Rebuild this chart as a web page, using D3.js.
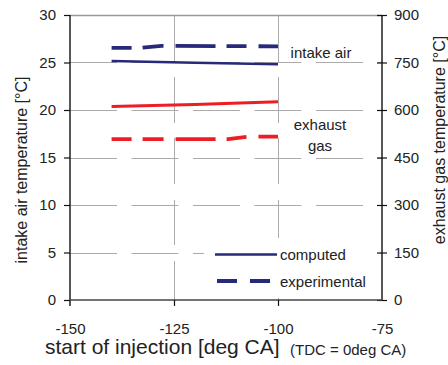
<!DOCTYPE html>
<html>
<head>
<meta charset="utf-8">
<script src="https://cdn.jsdelivr.net/npm/d3@7"></script>
<style>
  html, body { margin: 0; padding: 0; background: #fff; }
  svg { display: block; font-family: "Liberation Sans", Arial, sans-serif; }
</style>
</head>
<body>
<svg id="chart" width="448" height="365"></svg>
<script>
// Start of injection [deg CA] for each series
const xComputed = [-140, -120, -100];
const xIntakeExp = [-140, -133, -128, -100];
const xExhaustExp = [-140, -125, -112, -107, -100];

// Intake air temperature [°C] (left axis)
const intakeComputed = [25.15, 24.98, 24.82];
const intakeExperimental = [26.55, 26.55, 26.75, 26.7];

// Exhaust gas temperature [°C] (right axis)
const exhaustComputed = [611, 617, 626];
const exhaustExperimental = [508, 508, 508, 516, 516];

// Axis ticks
const xTicks = [-150, -125, -100, -75];
const leftTicks = [0, 5, 10, 15, 20, 25, 30];
const rightTicks = [0, 150, 300, 450, 600, 750, 900];

const svg = d3.select("#chart");
const L = 70, R = 382, T = 15, B = 300;

const x = d3.scaleLinear().domain([-150, -75]).range([L, R]);
const yL = d3.scaleLinear().domain([0, 30]).range([B, T]);
const yR = d3.scaleLinear().domain([0, 900]).range([B, T]);

const NAVY = "#27297a";
const RED = "#ee1d25";
const GRID = "#ababab";
const fmt = d => String(d); // plain hyphen-minus

// Grid: dashed horizontal and vertical lines, solid top border
const grid = svg.append("g");
grid.selectAll("line.h").data(leftTicks.filter(v => v > 0 && v < 30)).join("line")
  .attr("x1", L).attr("x2", R)
  .attr("y1", d => Math.round(yL(d)) + 0.5).attr("y2", d => Math.round(yL(d)) + 0.5)
  .attr("stroke", GRID).attr("stroke-width", 1)
  .attr("stroke-dasharray", "47,14.5");
grid.selectAll("line.v").data(xTicks.filter(v => v > -150 && v < -75)).join("line")
  .attr("x1", d => Math.round(x(d)) + 0.5).attr("x2", d => Math.round(x(d)) + 0.5)
  .attr("y1", T).attr("y2", B)
  .attr("stroke", GRID).attr("stroke-width", 1)
  .attr("stroke-dasharray", "48,14,46,15,46,16,45,16,46");
grid.append("line")
  .attr("x1", L).attr("x2", R).attr("y1", T + 0.5).attr("y2", T + 0.5)
  .attr("stroke", "#999").attr("stroke-width", 1.3);

// Series lines
const lineL = (xs, ys) => d3.line().x((d, i) => x(xs[i])).y((d, i) => yL(ys[i]))(ys);
const lineR = (xs, ys) => d3.line().x((d, i) => x(xs[i])).y((d, i) => yR(ys[i]))(ys);
const expDash = "20,11,21,12,40,11,20,12,20";

svg.append("path").attr("d", lineL(xIntakeExp, intakeExperimental))
  .attr("fill", "none").attr("stroke", NAVY).attr("stroke-width", 3.8)
  .attr("stroke-dasharray", expDash);
svg.append("path").attr("d", lineL(xComputed, intakeComputed))
  .attr("fill", "none").attr("stroke", NAVY).attr("stroke-width", 2.6);
svg.append("path").attr("d", lineR(xComputed, exhaustComputed))
  .attr("fill", "none").attr("stroke", RED).attr("stroke-width", 3);
svg.append("path").attr("d", lineR(xExhaustExp, exhaustExperimental))
  .attr("fill", "none").attr("stroke", RED).attr("stroke-width", 3.6)
  .attr("stroke-dasharray", expDash);

// Series labels
const lab = svg.append("g").attr("font-size", 15).attr("fill", "#222").attr("text-anchor", "middle");
lab.append("text").attr("x", 321).attr("y", 58).text("intake air");
lab.append("text").attr("x", 320).attr("y", 130).text("exhaust");
lab.append("text").attr("x", 320).attr("y", 151).text("gas");

// Legend
const leg = svg.append("g");
leg.append("rect").attr("x", 204).attr("y", 238).attr("width", 176).attr("height", 60).attr("fill", "#fff");
leg.append("line").attr("x1", 215).attr("x2", 277).attr("y1", 254.5).attr("y2", 254.5)
  .attr("stroke", NAVY).attr("stroke-width", 2.6);
leg.append("line").attr("x1", 217).attr("x2", 270).attr("y1", 281).attr("y2", 281)
  .attr("stroke", NAVY).attr("stroke-width", 3.8).attr("stroke-dasharray", "20,13");
leg.append("text").attr("x", 280).attr("y", 260).attr("font-size", 15).attr("fill", "#222").text("computed");
leg.append("text").attr("x", 280).attr("y", 287).attr("font-size", 15).attr("fill", "#222").text("experimental");

// Axes
const axL = svg.append("g").attr("transform", `translate(${L},0)`)
  .call(d3.axisLeft(yL).tickValues(leftTicks).tickSize(6).tickPadding(8).tickFormat(fmt));
const axR = svg.append("g").attr("transform", `translate(${R},0)`)
  .call(d3.axisRight(yR).tickValues(rightTicks).tickSize(5).tickPadding(7).tickFormat(fmt));
const axB = svg.append("g").attr("transform", `translate(0,${B})`)
  .call(d3.axisBottom(x).tickValues(xTicks).tickSize(6).tickPadding(17).tickFormat(fmt));

[axL, axR, axB].forEach(a => {
  a.selectAll("text").attr("font-size", 15).attr("fill", "#222")
    .attr("font-family", "'Liberation Sans', Arial, sans-serif");
  a.select(".domain").attr("stroke", "#111").attr("stroke-width", 1.4);
  a.selectAll(".tick line").attr("stroke", "#111").attr("stroke-width", 1.2);
});
axB.select(".domain").attr("stroke", "#444").attr("d", `M${L},0H${R}`);
axR.selectAll(".tick line").attr("x1", -5).attr("x2", 5);
axR.select(".domain").attr("d", `M0,${T}V${B}`);
axL.select(".domain").attr("d", `M0,${T}V${B + 6}`);
axB.selectAll(".tick").filter(d => d === -150 || d === -75).select("line").remove();

// Axis titles
svg.append("text").attr("transform", `translate(27,170) rotate(-90)`)
  .attr("text-anchor", "middle").attr("font-size", 16).attr("fill", "#222")
  .text("intake air temperature [°C]");
svg.append("text").attr("transform", `translate(445,140) rotate(-90)`)
  .attr("text-anchor", "middle").attr("font-size", 16).attr("fill", "#222")
  .text("exhaust gas temperature [°C]");
svg.append("text").attr("x", 45).attr("y", 354).attr("fill", "#222")
  .attr("font-size", 21).text("start of injection [deg CA]");
svg.append("text").attr("x", 290).attr("y", 355).attr("fill", "#222")
  .attr("font-size", 15).text("(TDC = 0deg CA)");
</script>
</body>
</html>
